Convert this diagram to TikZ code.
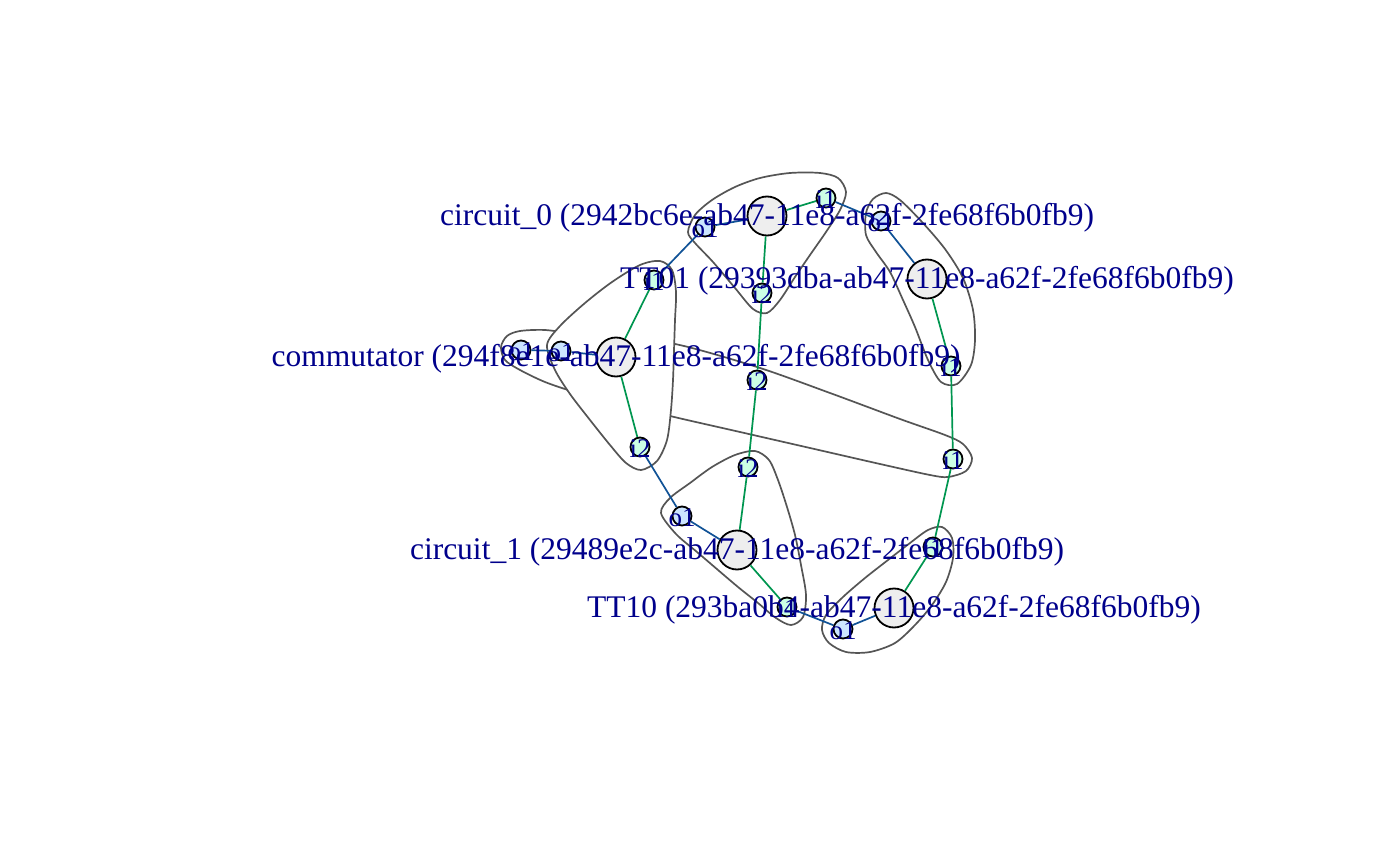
\documentclass[tikz,border=0pt]{standalone}
\usepackage{fontspec}
\setmainfont{Liberation Serif}
\definecolor{labelblue}{RGB}{0,0,139}
\definecolor{wireblue}{RGB}{16,82,150}
\definecolor{wiregreen}{RGB}{0,150,80}
\definecolor{hullgray}{RGB}{85,85,85}
\definecolor{boxgray}{RGB}{238,238,238}
\definecolor{inmint}{RGB}{204,255,229}
\definecolor{outsky}{RGB}{204,229,255}
\tikzset{
	block/.style={circle, draw=black, line width=1.8pt, fill=boxgray, minimum size=39pt, inner sep=0pt},
	portin/.style={circle, draw=black, line width=1.8pt, fill=inmint, minimum size=19pt, inner sep=0pt},
	portout/.style={circle, draw=black, line width=1.8pt, fill=outsky, minimum size=19pt, inner sep=0pt},
	wire/.style={line width=1.7pt, color=wireblue},
	link/.style={line width=1.7pt, color=wiregreen},
	hull/.style={line width=1.7pt, draw=hullgray, fill=white},
	blocklabel/.style={text=labelblue, font=\fontsize{31.5}{36}\selectfont, inner sep=0pt, yshift=-2pt},
	portlabel/.style={text=labelblue, font=\fontsize{27}{30}\selectfont, inner sep=0pt, yshift=-2pt}
}

\begin{document}
\begin{tikzpicture}[x=1pt, y=-1pt]
			%%%%% START %%%%%
			\useasboundingbox (0,0) rectangle (1400,866);
			
			% groups
			\draw[hull] plot[smooth cycle, tension=0.5] coordinates {(501,347) (507,336) (520,331) (545,330) (575,334) (620,340) (675,344) (757,367) (830,393) (900,419) (945,435) (963,444) (972,458) (966,471) (948,477) (930,475) (880,464) (810,448) (740,432) (670,416) (620,403) (575,392) (545,382) (520,370) (505,360)};
			\draw[hull] plot[smooth cycle, tension=0.5] coordinates {(547,345) (560,326) (585,303) (612,282) (640,265) (660,261) (672,270) (676,292) (675,320) (674,350) (673,380) (671,410) (667,440) (657,461) (641,470) (626,463) (610,445) (590,420) (570,394) (555,370)};
			\draw[hull] plot[smooth cycle, tension=0.5] coordinates {(688,232) (695,215) (712,200) (735,187) (760,178) (790,173) (820,173) (838,178) (846,192) (840,210) (826,232) (810,255) (795,277) (780,300) (767,313) (753,309) (735,288) (713,262) (695,243)};
			\draw[hull] plot[smooth cycle, tension=0.5] coordinates {(866,235) (866,213) (873,199) (886,193) (900,200) (922,222) (945,249) (963,278) (973,310) (975,340) (971,365) (957,384) (941,382) (928,360) (915,327) (903,300) (890,272) (876,252)};
			\draw[hull] plot[smooth cycle, tension=0.5] coordinates {(661,513) (670,498) (690,483) (712,467) (735,455) (755,451) (769,460) (778,480) (787,507) (795,535) (801,565) (806,595) (803,617) (791,625) (776,618) (758,603) (738,587) (718,570) (697,552) (676,534)};
			\draw[hull] plot[smooth cycle, tension=0.5] coordinates {(822,630) (826,615) (843,597) (865,578) (888,560) (910,543) (928,530) (942,527) (952,538) (953,558) (946,582) (932,605) (915,625) (895,643) (870,652) (846,652) (829,643)};
			
			% blocks
			\node[block] (c0) at (767,216) {};
			\node[block] (t01) at (927,279) {};
			\node[block] (com) at (616,357) {};
			\node[block] (c1) at (737,550) {};
			\node[block] (t10) at (894,608) {};
			
			% ports
			\node[portout] (c0o1) at (705,227) {};
			\node[portin] (c0i1) at (826,198) {};
			\node[portin] (c0i2) at (762,293) {};
			\node[portout] (t01o1) at (881,221) {};
			\node[portin] (t01i1) at (951,366) {};
			\node[portin] (comi1) at (654,280) {};
			\node[portin] (comi2) at (640,447) {};
			\node[portout] (como1) at (561,351) {};
			\node[portout] (outo1) at (521,350) {};
			\node[portin] (midi2) at (757,380) {};
			\node[portin] (midi1) at (953,459) {};
			\node[portin] (c1i2) at (748,467) {};
			\node[portout] (c1o1) at (682,516) {};
			\node[portin] (c1i1) at (787,607) {};
			\node[portout] (t10o1) at (843,629) {};
			\node[portin] (t10i1) at (933,547) {};
			
			% connections
			\draw[wire] (c0o1) -- (c0);
			\draw[link] (c0) -- (c0i1);
			\draw[wire] (c0i1) -- (t01o1);
			\draw[wire] (t01o1) -- (t01);
			\draw[wire] (c0o1) -- (comi1);
			\draw[link] (c0) -- (c0i2);
			\draw[link] (comi1) -- (com);
			\draw[link] (c0i2) -- (midi2);
			\draw[link] (midi2) -- (c1i2);
			\draw[link] (t01) -- (t01i1);
			\draw[link] (t01i1) -- (midi1);
			\draw[link] (midi1) -- (t10i1);
			\draw[link] (t10i1) -- (t10);
			\draw[wire] (t10) -- (t10o1);
			\draw[wire] (t10o1) -- (c1i1);
			\draw[link] (c1i1) -- (c1);
			\draw[wire] (c1) -- (c1o1);
			\draw[wire] (c1o1) -- (comi2);
			\draw[link] (comi2) -- (com);
			\draw[link] (c1i2) -- (c1);
			\draw[wire] (com) -- (como1);
			\draw[wire] (como1) -- (outo1);
			
			% labels
			\node[portlabel] (c0o1-text) at (c0o1) {o1};
			\node[portlabel] (c0i1-text) at (c0i1) {i1};
			\node[portlabel] (c0i2-text) at (c0i2) {i2};
			\node[portlabel] (t01o1-text) at (t01o1) {o1};
			\node[portlabel] (t01i1-text) at (t01i1) {i1};
			\node[portlabel] (comi1-text) at (comi1) {i1};
			\node[portlabel] (comi2-text) at (comi2) {i2};
			\node[portlabel] (como1-text) at (como1) {o1};
			\node[portlabel] (outo1-text) at (outo1) {o1};
			\node[portlabel] (midi2-text) at (midi2) {i2};
			\node[portlabel] (midi1-text) at (midi1) {i1};
			\node[portlabel] (c1i2-text) at (c1i2) {i2};
			\node[portlabel] (c1o1-text) at (c1o1) {o1};
			\node[portlabel] (c1i1-text) at (c1i1) {i1};
			\node[portlabel] (t10o1-text) at (t10o1) {o1};
			\node[portlabel] (t10i1-text) at (t10i1) {i1};
			
			\node[blocklabel] (c0-text) at (c0) {circuit\_0 (2942bc6e-ab47-11e8-a62f-2fe68f6b0fb9)};
			\node[blocklabel] (t01-text) at (t01) {TT01 (29393dba-ab47-11e8-a62f-2fe68f6b0fb9)};
			\node[blocklabel] (com-text) at (com) {commutator (294f8e1e-ab47-11e8-a62f-2fe68f6b0fb9)};
			\node[blocklabel] (c1-text) at (c1) {circuit\_1 (29489e2c-ab47-11e8-a62f-2fe68f6b0fb9)};
			\node[blocklabel] (t10-text) at (t10) {TT10 (293ba0b4-ab47-11e8-a62f-2fe68f6b0fb9)};
			
			%%%%% END %%%%%
		\end{tikzpicture}
\end{document}
